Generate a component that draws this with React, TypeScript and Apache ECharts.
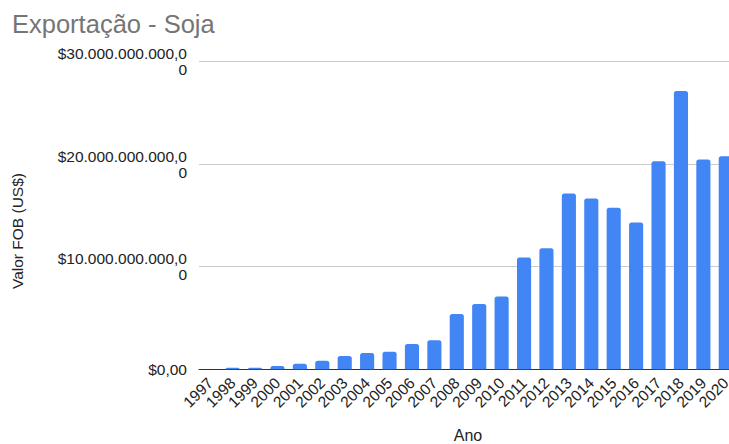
import React, { useEffect, useRef } from "react";
import * as echarts from "echarts";

const titleText = "Exportação - Soja";
const yAxisTitle = "Valor FOB (US$)";
const xAxisTitle = "Ano";

const years = [
  "1997", "1998", "1999", "2000", "2001", "2002", "2003", "2004",
  "2005", "2006", "2007", "2008", "2009", "2010", "2011", "2012",
  "2013", "2014", "2015", "2016", "2017", "2018", "2019", "2020",
];

// Valor FOB (US$)
const valoresFob = [
  0, 160000000, 160000000, 320000000, 550000000, 840000000, 1300000000, 1590000000,
  1710000000, 2460000000, 2820000000, 5380000000, 6360000000, 7100000000, 10900000000, 11800000000,
  17140000000, 16650000000, 15740000000, 14310000000, 20280000000, 27130000000, 20450000000, 20770000000,
];

const yTicks = [0, 10000000000, 20000000000, 30000000000];

function formatBRL(v: number): string {
  if (v === 0) return "$0,00";
  const intPart = Math.round(v)
    .toString()
    .replace(/\B(?=(\d{3})+(?!\d))/g, ".");
  const full = "$" + intPart + ",00";
  // wrap the last character onto its own line as in the reference
  return full.slice(0, full.length - 1) + "\n" + full.slice(full.length - 1);
}

export default function App() {
  const ref = useRef<HTMLDivElement>(null);

  useEffect(() => {
    if (!ref.current) return;
    const chart = echarts.init(ref.current, undefined, { renderer: "svg" });
    const font = "'Liberation Sans', Arial, sans-serif";
    chart.setOption({
      animation: false,
      backgroundColor: "#ffffff",
      title: {
        text: titleText,
        left: 7,
        top: 6,
        textStyle: {
          fontFamily: font,
          fontSize: 25.5,
          fontWeight: "normal",
          color: "#757575",
        },
      },
      grid: {
        left: 199,
        top: 61.5,
        width: 538,
        bottom: 74.7,
        containLabel: false,
        outerBoundsMode: "none",
      },
      xAxis: {
        type: "category",
        data: years,
        name: xAxisTitle,
        nameLocation: "middle",
        nameGap: 60,
        nameTextStyle: {
          fontFamily: font,
          fontSize: 16,
          lineHeight: 13,
          color: "#222222",
        },
        axisTick: { show: false },
        axisLine: { lineStyle: { color: "#333333", width: 1 } },
        axisLabel: {
          interval: 0,
          rotate: 45,
          margin: 11,
          fontFamily: font,
          fontSize: 15.5,
          color: "#222222",
        },
      },
      yAxis: {
        type: "value",
        min: yTicks[0],
        max: yTicks[yTicks.length - 1],
        interval: yTicks[1] - yTicks[0],
        axisLine: { show: false },
        axisTick: { show: false },
        splitLine: { lineStyle: { color: "#cccccc", width: 1 } },
        axisLabel: {
          margin: 12,
          fontFamily: font,
          fontSize: 15.5,
          lineHeight: 16,
          color: "#222222",
          align: "right",
          formatter: (v: number) => formatBRL(v),
        },
      },
      graphic: [
        {
          type: "text",
          x: 17,
          y: 231,
          rotation: Math.PI / 2,
          style: {
            text: yAxisTitle,
            fontFamily: font,
            fontSize: 15.5,
            fill: "#222222",
            align: "center",
            verticalAlign: "middle",
          },
        },
      ],
      series: [
        {
          type: "bar",
          data: valoresFob,
          barCategoryGap: "37%",
          itemStyle: { color: "#4285f4", borderRadius: [2.5, 2.5, 0, 0] },
        },
      ],
    });
    return () => chart.dispose();
  }, []);

  return (
    <div
      ref={ref}
      style={{ position: "fixed", left: 0, top: 0, width: 729, height: 444 }}
    />
  );
}
